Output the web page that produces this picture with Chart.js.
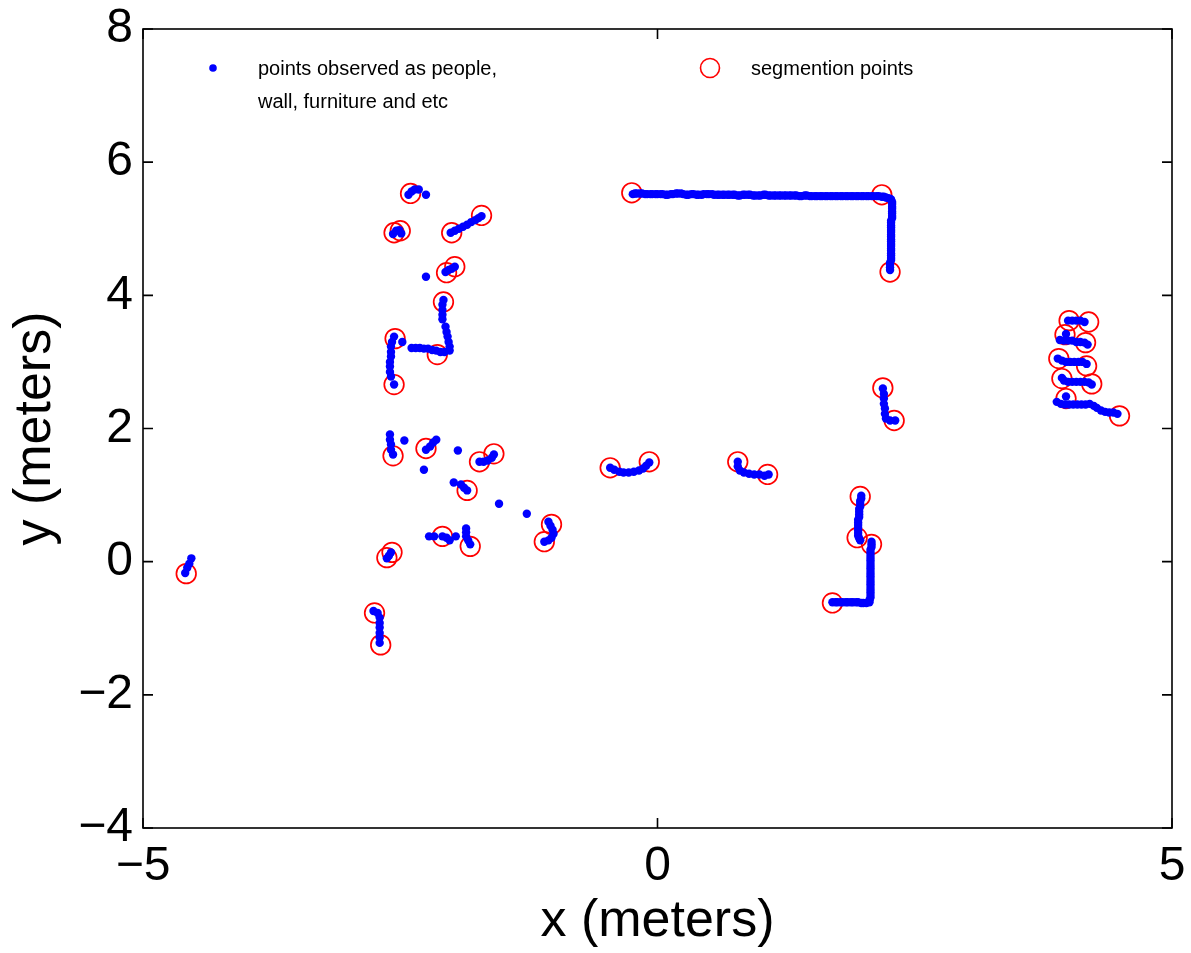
<!DOCTYPE html>
<html>
<head>
<meta charset="utf-8">
<script src="https://cdn.jsdelivr.net/npm/chart.js@4.4.1/dist/chart.umd.min.js"></script>
<style>
  html, body { margin: 0; padding: 0; background: #fff; }
  #wrap { width: 1191px; height: 953px; position: relative; }
</style>
</head>
<body>
<div id="wrap"><canvas id="scan"></canvas></div>
<script>
// tick labels
const xTicks = [-5, 0, 5];
const yTicks = [-4, -2, 0, 2, 4, 6, 8];

// scan points, grouped by the blob they belong to
const wallTop = [[-0.24,5.52],[-0.22,5.53],[-0.20,5.53],[-0.17,5.53],[-0.15,5.53],[-0.12,5.52],[-0.10,5.52],[-0.07,5.52],[-0.05,5.52],[-0.02,5.52],[0.00,5.52],[0.03,5.52],[0.05,5.52],[0.08,5.51],[0.10,5.51],[0.13,5.52],[0.15,5.52],[0.18,5.53],[0.20,5.53],[0.23,5.53],[0.25,5.52],[0.28,5.51],[0.30,5.51],[0.33,5.52],[0.35,5.52],[0.38,5.51],[0.40,5.51],[0.43,5.51],[0.45,5.52],[0.48,5.52],[0.50,5.52],[0.53,5.52],[0.55,5.51],[0.58,5.51],[0.60,5.51],[0.63,5.51],[0.65,5.51],[0.68,5.51],[0.70,5.51],[0.73,5.51],[0.75,5.51],[0.78,5.50],[0.80,5.50],[0.83,5.51],[0.85,5.51],[0.88,5.51],[0.90,5.51],[0.93,5.50],[0.95,5.50],[0.98,5.50],[1.00,5.50],[1.03,5.51],[1.05,5.51],[1.08,5.50],[1.10,5.50],[1.13,5.50],[1.15,5.50],[1.18,5.50],[1.20,5.50],[1.23,5.50],[1.25,5.50],[1.28,5.50],[1.30,5.50],[1.33,5.50],[1.35,5.50],[1.38,5.49],[1.40,5.49],[1.43,5.50],[1.45,5.50],[1.48,5.49],[1.50,5.49],[1.53,5.49],[1.55,5.49],[1.58,5.49],[1.60,5.49],[1.63,5.49],[1.65,5.49],[1.68,5.49],[1.70,5.49],[1.73,5.49],[1.75,5.49],[1.78,5.49],[1.80,5.49],[1.83,5.49],[1.85,5.49],[1.88,5.49],[1.90,5.49],[1.93,5.49],[1.95,5.49],[1.98,5.49],[2.00,5.49],[2.03,5.49],[2.05,5.49],[2.08,5.49],[2.10,5.49],[2.13,5.49],[2.15,5.49],[2.18,5.48],[2.20,5.48],[2.22,5.47],[2.24,5.46],[2.26,5.45]];
const wallRight = [[2.27,5.44],[2.28,5.40],[2.28,5.37],[2.28,5.33],[2.28,5.30],[2.28,5.26],[2.28,5.23],[2.28,5.19],[2.28,5.16],[2.27,5.12],[2.27,5.09],[2.27,5.05],[2.27,5.02],[2.27,4.98],[2.27,4.95],[2.27,4.91],[2.27,4.88],[2.27,4.84],[2.27,4.81],[2.27,4.77],[2.27,4.74],[2.27,4.70],[2.27,4.67],[2.27,4.63],[2.27,4.60],[2.27,4.56],[2.27,4.53],[2.26,4.49],[2.26,4.46],[2.26,4.42],[2.26,4.38]];
const farLeft = [[-4.59,-0.17],[-4.57,-0.09],[-4.55,-0.03],[-4.53,0.05]];
const blobTop = [[-2.42,5.51],[-2.39,5.56],[-2.36,5.59],[-2.32,5.59]];
const blobB = [[-2.57,4.92],[-2.54,4.97],[-2.51,4.98],[-2.49,4.93]];
const diagC = [[-2.01,4.94],[-1.97,4.97],[-1.93,5.00],[-1.89,5.03],[-1.85,5.06],[-1.81,5.10],[-1.77,5.13],[-1.74,5.16],[-1.71,5.19]];
const shortD = [[-2.06,4.35],[-2.03,4.38],[-2.00,4.40],[-1.97,4.43]];
const vertE1 = [[-2.08,3.93],[-2.09,3.86],[-2.09,3.78],[-2.09,3.71],[-2.09,3.64]];
const vertE2 = [[-2.06,3.53],[-2.05,3.45],[-2.04,3.38],[-2.03,3.30],[-2.02,3.23],[-2.02,3.17]];
const horizE = [[-2.39,3.21],[-2.35,3.21],[-2.31,3.21],[-2.27,3.20],[-2.23,3.20],[-2.19,3.18],[-2.15,3.17],[-2.11,3.15],[-2.07,3.15]];
const vertF = [[-2.56,3.38],[-2.58,3.30],[-2.59,3.23],[-2.59,3.15],[-2.59,3.08],[-2.60,3.00],[-2.60,2.93],[-2.60,2.85],[-2.59,2.78],[-2.56,2.66]];
const vertG = [[-2.60,1.91],[-2.60,1.83],[-2.59,1.76],[-2.59,1.68],[-2.57,1.61]];
const blobH = [[-2.25,1.68],[-2.21,1.73],[-2.18,1.79],[-2.15,1.83]];
const blobI = [[-1.73,1.50],[-1.69,1.50],[-1.65,1.52],[-1.61,1.56],[-1.59,1.61]];
const shortJ = [[-1.91,1.16],[-1.88,1.11],[-1.85,1.07]];
const curveK = [[-1.06,0.60],[-1.04,0.54],[-1.02,0.48],[-1.01,0.42],[-1.03,0.36],[-1.06,0.32],[-1.10,0.30]];
const rowL = [[-2.22,0.38],[-2.17,0.38],[-2.09,0.38],[-2.05,0.36],[-2.02,0.32],[-1.96,0.38],[-1.86,0.50],[-1.86,0.44],[-1.86,0.38],[-1.84,0.32],[-1.82,0.26]];
const blobM = [[-2.63,0.05],[-2.61,0.09],[-2.59,0.14]];
const vertN = [[-2.76,-0.74],[-2.72,-0.77],[-2.70,-0.84],[-2.70,-0.92],[-2.70,-0.99],[-2.70,-1.07],[-2.70,-1.14],[-2.70,-1.22]];
const arcO = [[-0.46,1.41],[-0.42,1.38],[-0.37,1.35],[-0.33,1.34],[-0.28,1.34],[-0.23,1.35],[-0.18,1.37],[-0.14,1.40],[-0.11,1.44],[-0.08,1.49]];
const arcP = [[0.78,1.50],[0.78,1.43],[0.80,1.37],[0.84,1.34],[0.89,1.32],[0.94,1.31],[0.99,1.31],[1.04,1.29],[1.08,1.31]];
const cornerQ = [[2.19,2.60],[2.20,2.52],[2.20,2.45],[2.20,2.37],[2.21,2.30],[2.21,2.22],[2.22,2.15],[2.26,2.12],[2.31,2.12]];
const vertR1 = [[1.98,0.99],[1.98,0.95],[1.97,0.91],[1.97,0.87],[1.97,0.83],[1.96,0.79],[1.96,0.75],[1.96,0.71],[1.96,0.67],[1.95,0.63],[1.95,0.59],[1.95,0.55],[1.95,0.51],[1.95,0.47],[1.95,0.43],[1.95,0.39],[1.96,0.35],[1.97,0.32]];
const vertR2 = [[2.08,0.30],[2.08,0.26],[2.08,0.22],[2.07,0.18],[2.07,0.14],[2.07,0.10],[2.07,0.06],[2.07,0.02],[2.07,-0.02],[2.07,-0.06],[2.07,-0.10],[2.07,-0.14],[2.07,-0.18],[2.07,-0.22],[2.07,-0.26],[2.07,-0.30],[2.07,-0.34],[2.07,-0.38],[2.07,-0.42],[2.07,-0.46],[2.07,-0.50],[2.07,-0.54],[2.06,-0.58],[2.06,-0.61]];
const horizR = [[1.70,-0.61],[1.73,-0.61],[1.75,-0.61],[1.78,-0.61],[1.80,-0.61],[1.83,-0.61],[1.85,-0.61],[1.88,-0.61],[1.90,-0.61],[1.93,-0.61],[1.95,-0.61],[1.98,-0.62],[2.00,-0.62],[2.03,-0.62]];
const shelf1 = [[3.99,3.62],[4.03,3.62],[4.07,3.62],[4.11,3.62],[4.15,3.60]];
const shelf2 = [[3.91,3.33],[3.95,3.32],[3.99,3.32],[4.03,3.32],[4.07,3.30],[4.11,3.30],[4.15,3.29],[4.18,3.26]];
const shelf3 = [[3.89,3.05],[3.93,3.02],[3.97,3.00],[4.01,3.00],[4.05,3.00],[4.09,3.00],[4.13,3.00],[4.17,2.97]];
const shelf4 = [[3.93,2.76],[3.95,2.72],[3.99,2.70],[4.03,2.70],[4.07,2.70],[4.11,2.70],[4.15,2.70],[4.19,2.69],[4.22,2.66]];
const shelf5 = [[3.88,2.40],[3.92,2.37],[3.96,2.36],[4.00,2.36],[4.04,2.36],[4.08,2.36],[4.12,2.36],[4.16,2.36],[4.20,2.37],[4.24,2.34],[4.27,2.31],[4.31,2.27],[4.35,2.25],[4.39,2.24],[4.43,2.24],[4.47,2.22]];
const strayDots = [[-2.25,5.51],[-2.25,4.28],[-2.48,3.30],[-2.46,1.82],[-1.94,1.67],[-2.27,1.38],[-1.98,1.19],[-1.54,0.87],[-1.27,0.72],[3.97,3.42],[3.97,2.48]];

// segmentation points (red circles)
const segPoints = [[-4.58,-0.18],[-2.40,5.53],[-2.56,4.94],[-2.50,4.97],[-2.00,4.94],[-1.71,5.20],[-2.05,4.34],[-1.97,4.43],[-2.08,3.90],[-2.55,3.35],[-2.14,3.11],[-2.56,2.66],[-2.57,1.59],[-2.25,1.70],[-1.59,1.62],[-1.73,1.50],[-1.85,1.07],[-2.09,0.38],[-1.82,0.23],[-1.03,0.56],[-1.10,0.30],[-2.58,0.14],[-2.63,0.06],[-2.75,-0.77],[-2.69,-1.25],[-0.25,5.54],[2.18,5.51],[2.26,4.35],[-0.46,1.41],[-0.08,1.50],[0.78,1.50],[1.07,1.31],[2.19,2.61],[2.30,2.12],[1.97,0.98],[1.94,0.36],[2.08,0.26],[1.70,-0.62],[4.00,3.62],[4.19,3.60],[3.96,3.41],[4.16,3.29],[3.90,3.05],[4.17,2.94],[3.93,2.75],[4.22,2.67],[3.97,2.45],[4.49,2.19]];

const blueGroups = [wallTop, wallRight, farLeft, blobTop, blobB, diagC, shortD, vertE1, vertE2, horizE, vertF, vertG, blobH, blobI, shortJ, curveK, rowL, blobM, vertN, arcO, arcP, cornerQ, vertR1, vertR2, horizR, shelf1, shelf2, shelf3, shelf4, shelf5, strayDots];
const toXY = p => ({ x: p[0], y: p[1] });

const FONT = '"Liberation Sans", Arial, sans-serif';
const fmt = v => v < 0 ? '\u2212' + Math.abs(v) : String(v);

// box around plot + inward ticks on all four sides (matlab look)
const frame = {
    id: 'frame',
    beforeDatasetsDraw(chart) {
        const { ctx, chartArea: a, scales } = chart;
        ctx.save();
        ctx.strokeStyle = '#000';
        ctx.lineWidth = 1.6;
        ctx.strokeRect(a.left, a.top, a.right - a.left, a.bottom - a.top);
        ctx.beginPath();
        xTicks.forEach(v => {
            const px = scales.x.getPixelForValue(v);
            ctx.moveTo(px, a.bottom); ctx.lineTo(px, a.bottom - 10);
            ctx.moveTo(px, a.top); ctx.lineTo(px, a.top + 10);
        });
        yTicks.forEach(v => {
            const py = scales.y.getPixelForValue(v);
            ctx.moveTo(a.left, py); ctx.lineTo(a.left + 10, py);
            ctx.moveTo(a.right, py); ctx.lineTo(a.right - 10, py);
        });
        ctx.stroke();
        ctx.restore();
    }
};

const legendBox = {
    id: 'legendBox',
    afterDraw(chart) {
        const { ctx, chartArea: a } = chart;
        const ds = chart.data.datasets;
        ctx.save();
        ctx.font = '20px ' + FONT;
        ctx.textBaseline = 'middle';
        ctx.fillStyle = ds[0].backgroundColor;
        ctx.beginPath();
        ctx.arc(a.left + 70, a.top + 39, 3.8, 0, Math.PI * 2);
        ctx.fill();
        ctx.strokeStyle = ds[1].borderColor;
        ctx.lineWidth = 1.6;
        ctx.beginPath();
        ctx.arc(a.left + 567, a.top + 39, 9.5, 0, Math.PI * 2);
        ctx.stroke();
        ctx.fillStyle = '#000';
        ctx.fillText(ds[0].label[0], a.left + 115, a.top + 40);
        ctx.fillText(ds[0].label[1], a.left + 115, a.top + 73);
        ctx.fillText(ds[1].label, a.left + 608, a.top + 40);
        ctx.restore();
    }
};

window.onload = () => {
    new Chart(document.getElementById('scan'), {
        type: 'scatter',
        data: {
            datasets: [
                {
                    label: ['points observed as people,', 'wall, furniture and etc'],
                    data: blueGroups.flat().map(toXY),
                    backgroundColor: 'rgb(0, 0, 255)',
                    borderWidth: 0,
                    pointRadius: 4.2,
                    pointHoverRadius: 4.2
                },
                {
                    label: 'segmention points',
                    data: segPoints.map(toXY),
                    backgroundColor: 'rgba(0, 0, 0, 0)',
                    borderColor: 'rgb(255, 0, 0)',
                    borderWidth: 1.7,
                    pointRadius: 9.8,
                    pointHoverRadius: 9.8
                }
            ]
        },
        options: {
            responsive: true,
            maintainAspectRatio: false,
            animation: false,
            events: [],
            layout: { padding: { top: 29, right: 19, left: 0, bottom: 0 } },
            plugins: {
                legend: { display: false },
                tooltip: { enabled: false }
            },
            scales: {
                x: {
                    type: 'linear',
                    min: -5, max: 5,
                    afterBuildTicks: s => { s.ticks = xTicks.map(v => ({ value: v })); },
                    afterFit: s => { s.height = 125; s.paddingLeft = 0; s.paddingRight = 0; },
                    grid: { display: false },
                    border: { display: false },
                    ticks: { color: '#000', font: { family: FONT, size: 48 }, padding: 2, maxRotation: 0, callback: fmt },
                    title: { display: true, text: 'x (meters)', color: '#000', font: { family: FONT, size: 52 }, padding: { top: 0, bottom: 0 } }
                },
                y: {
                    type: 'linear',
                    min: -4, max: 8,
                    afterBuildTicks: s => { s.ticks = yTicks.map(v => ({ value: v })); },
                    afterFit: s => { s.width = 143; s.paddingTop = 0; s.paddingBottom = 0; },
                    grid: { display: false },
                    border: { display: false },
                    ticks: { color: '#000', font: { family: FONT, size: 48 }, padding: 2, callback: fmt },
                    title: { display: true, text: 'y (meters)', color: '#000', font: { family: FONT, size: 52 }, padding: { top: 4, bottom: 0 } }
                }
            }
        },
        plugins: [frame, legendBox]
    });
};
</script>
</body>
</html>
